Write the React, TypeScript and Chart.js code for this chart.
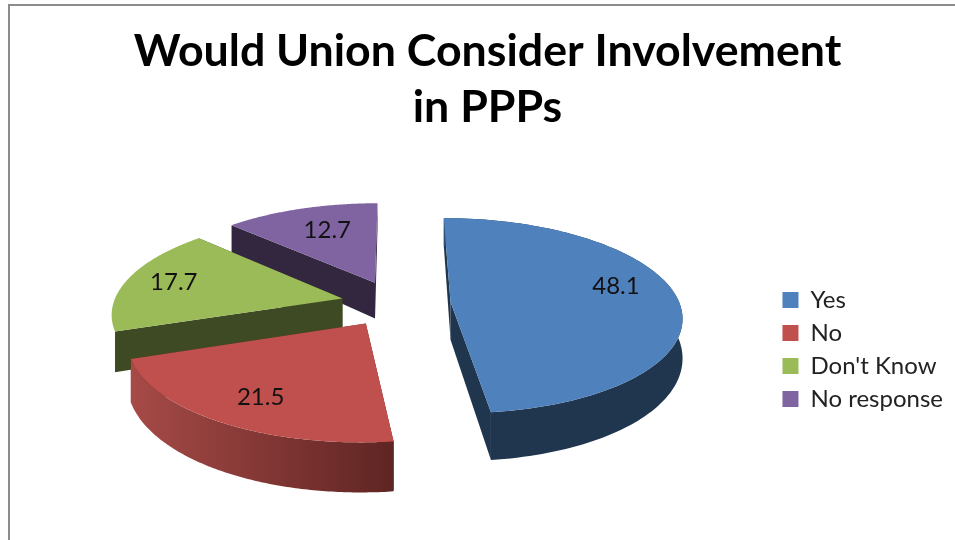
import React, { useEffect, useRef } from "react";
import { Chart, registerables } from "chart.js";

Chart.register(...registerables);

const categories = ["Yes", "No", "Don't Know", "No response"];
const shares = [48.1, 21.5, 17.7, 12.7];
const titleLines = ["Would Union Consider Involvement", "in PPPs"];

const topColors = ["#4F81BD", "#C0504D", "#9BBB59", "#8064A2"];
const sideColors = ["#20364F", "#5F2523", "#3E4A23", "#33263F"];
const wallStart = ["#2F4D72", "#A64A47", "#3E4A23", "#33263F"];
const wallEnd = ["#20364F", "#5F2523", "#3E4A23", "#33263F"];
const labelShiftX = [-2, -1, -9, 9];
const labelShiftY = [-12, 3, -1, 4];

const EXPLODE = 55;
const RADIUS = 229;
const PERSPECTIVE = 0.14;
const FLATTEN = 96;
const PIE_SHIFT_X = -2;
const LABEL_FONT = "24px Lato";

const pie3d = {
  id: "pie3d",
  beforeDatasetsDraw(chart: any) {
    const ctx = chart.ctx;
    const arcs = chart.getDatasetMeta(0).data as any[];
    const project = (u: number, v: number, cx: number, cy: number, r: number) => {
      const w = 1 + PERSPECTIVE * v;
      return { x: cx + PIE_SHIFT_X + (u * r) / w, y: cy - (v * FLATTEN) / w, v };
    };
    const order = arcs
      .map((a, i) => ({ a, i, mid: (a.startAngle + a.endAngle) / 2 + Math.PI / 2 }))
      .sort((p, q) => Math.cos(q.mid) - Math.cos(p.mid));

    order.forEach(({ a, i, mid }) => {
      const r = a.outerRadius;
      const off = a.options.offset / r;
      const du = Math.sin(mid) * off;
      const dv = Math.cos(mid) * off;
      const t0 = a.startAngle + Math.PI / 2;
      const t1 = a.endAngle + Math.PI / 2;
      const rim: { x: number; y: number; v: number }[] = [];
      const steps = 120;
      for (let s = 0; s <= steps; s++) {
        const t = t0 + ((t1 - t0) * s) / steps;
        rim.push(project(du + Math.sin(t), dv + Math.cos(t), a.x, a.y, r));
      }
      const apex = project(du, dv, a.x, a.y, r);
      const depth = (v: number) => 38 - 10 * v;

      const face = (pts: { x: number; y: number; v: number }[], fill: any) => {
        ctx.beginPath();
        pts.forEach((p, k) => (k ? ctx.lineTo(p.x, p.y) : ctx.moveTo(p.x, p.y)));
        pts
          .slice()
          .reverse()
          .forEach((p) => ctx.lineTo(p.x, p.y + depth(p.v)));
        ctx.closePath();
        ctx.fillStyle = fill;
        ctx.fill();
      };

      face([apex, rim[0]], sideColors[i]);
      face([apex, rim[rim.length - 1]], sideColors[i]);
      // The curved outer wall only shows on slices that face the viewer.
      if (Math.cos(mid) < 0.15) {
        const xs = rim.map((p) => p.x);
        const minX = Math.min(...xs);
        const maxX = Math.max(...xs);
        const grad = ctx.createLinearGradient(minX, 0, maxX, 0);
        if (i === 0) {
          grad.addColorStop(0, wallStart[i]);
          grad.addColorStop(0.18, wallEnd[i]);
          grad.addColorStop(1, wallEnd[i]);
        } else {
          grad.addColorStop(0, wallStart[i]);
          grad.addColorStop(1, wallEnd[i]);
        }
        face(rim, grad);
      }

      ctx.beginPath();
      ctx.moveTo(apex.x, apex.y);
      rim.forEach((p) => ctx.lineTo(p.x, p.y));
      ctx.closePath();
      ctx.fillStyle = topColors[i];
      ctx.fill();
    });

    ctx.save();
    ctx.font = LABEL_FONT;
    ctx.fillStyle = "#111111";
    ctx.textAlign = "center";
    ctx.textBaseline = "middle";
    arcs.forEach((a, i) => {
      const mid = (a.startAngle + a.endAngle) / 2 + Math.PI / 2;
      const f = 0.74 + a.options.offset / a.outerRadius;
      const p = project(Math.sin(mid) * f, Math.cos(mid) * f, a.x, a.y, a.outerRadius);
      ctx.fillText(String(shares[i]), p.x + labelShiftX[i], p.y + labelShiftY[i]);
    });
    ctx.restore();
    return false;
  },
};

export default function App() {
  const ref = useRef<HTMLCanvasElement | null>(null);

  useEffect(() => {
    const chart = new Chart(ref.current as HTMLCanvasElement, {
      type: "pie",
      data: {
        labels: categories,
        datasets: [
          {
            data: shares,
            backgroundColor: topColors,
            borderWidth: 0,
            offset: EXPLODE,
          },
        ],
      },
      options: {
        animation: false,
        responsive: false,
        radius: RADIUS,
        events: [],
        layout: { padding: { left: 22, right: 2, top: 0, bottom: 120 } },
        plugins: {
          tooltip: { enabled: false },
          title: {
            display: true,
            text: titleLines,
            color: "#000000",
            font: { family: "Lato", size: 44.7, weight: "bold", lineHeight: 1.25 },
            padding: { top: 24, bottom: 51 },
          },
          legend: {
            position: "right",
            align: "end",
            labels: {
              boxWidth: 16,
              boxHeight: 16,
              padding: 9,
              color: "#222222",
              font: { family: "Lato", size: 24 },
            },
          },
        },
      } as any,
      plugins: [pie3d as any],
    });
    return () => chart.destroy();
  }, []);

  return (
    <div style={{ position: "fixed", inset: 0, overflow: "hidden", background: "#ffffff" }}>
      <canvas ref={ref} width={955} height={540} style={{ position: "absolute", left: 0, top: 0 }} />
      <div
        style={{
          position: "absolute",
          left: 8,
          top: 4,
          right: 0,
          bottom: 0,
          borderTop: "2px solid #8C8C8C",
          borderLeft: "2px solid #8C8C8C",
        }}
      />
    </div>
  );
}
